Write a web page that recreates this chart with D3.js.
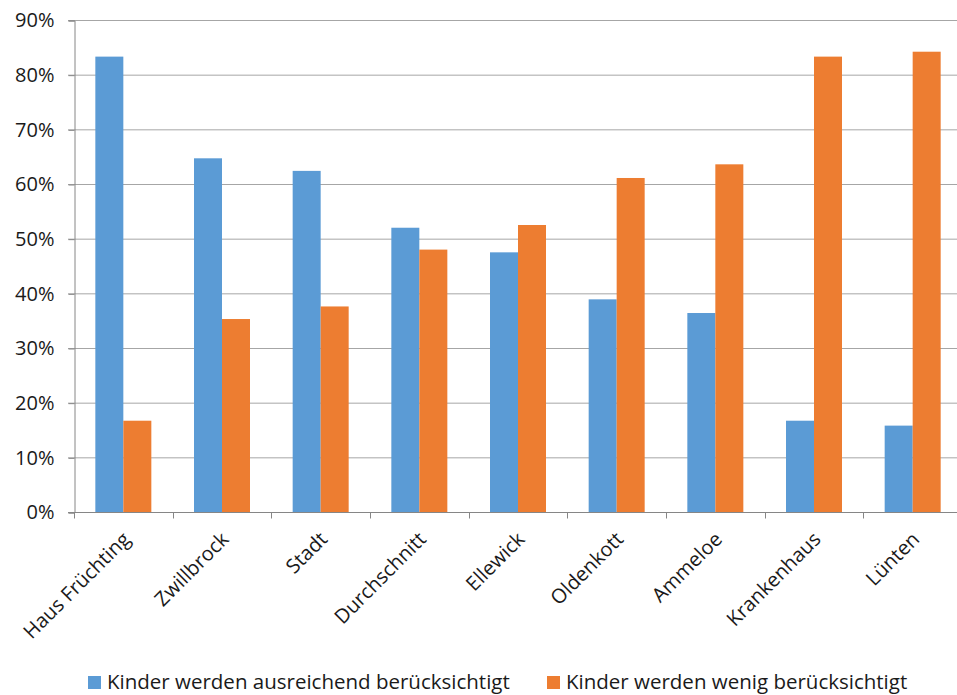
<!DOCTYPE html>
<html>
<head>
<meta charset="utf-8">
<script src="https://cdn.jsdelivr.net/npm/d3@7/dist/d3.min.js"></script>
<style>
  html, body { margin: 0; padding: 0; background: #fff; }
  svg { display: block; font-family: "Open Sans", "Noto Sans", sans-serif; }
</style>
</head>
<body>
<svg id="chart" width="957" height="695"></svg>
<script>
// Anteil der Antworten je Ortsteil
const categories = ["Haus Früchting", "Zwillbrock", "Stadt", "Durchschnitt", "Ellewick", "Oldenkott", "Ammeloe", "Krankenhaus", "Lünten"];
const ausreichend = [83.3, 64.7, 62.4, 52.0, 47.5, 38.9, 36.4, 16.7, 15.8];
const wenig = [16.7, 35.3, 37.6, 48.0, 52.5, 61.1, 63.6, 83.3, 84.2];
const seriesNames = ["Kinder werden ausreichend berücksichtigt", "Kinder werden wenig berücksichtigt"];
const yTicks = [0, 10, 20, 30, 40, 50, 60, 70, 80, 90];

const colors = ["#5B9BD5", "#ED7D31"];
const svg = d3.select("#chart");

const plotLeft = 74, plotRight = 962, plotTop = 20, plotBottom = 512;
const fontSize = "20px";

const x = d3.scaleBand().domain(categories).range([plotLeft, plotRight]).paddingInner(0).paddingOuter(0);
// two bars of 28px each, centred inside each band
const barW = 28;
const y = d3.scaleLinear().domain([0, 90]).range([plotBottom, plotTop]);

// horizontal gridlines
svg.append("g")
  .selectAll("line")
  .data(yTicks.filter(d => d > 0))
  .join("line")
  .attr("x1", plotLeft - 6).attr("x2", plotRight)
  .attr("y1", d => y(d) + 0.5).attr("y2", d => y(d) + 0.5)
  .attr("stroke", "#A6A6A6").attr("stroke-width", 1);

// y axis
const yAxis = d3.axisLeft(y).tickValues(yTicks).tickFormat(d => d + "%").tickSize(6).tickPadding(14);
const gy = svg.append("g").attr("transform", `translate(${plotLeft + 0.5},0.5)`).call(yAxis);
gy.select(".domain").attr("stroke", "#868686");
gy.selectAll(".tick line").attr("stroke", "#868686");
gy.selectAll(".tick text").attr("fill", "#1a1a1a").style("font-size", fontSize)
  .attr("font-family", "'Open Sans', sans-serif");

// bars
const groups = svg.append("g").selectAll("g")
  .data(categories.map((c, i) => ({ c, v: [ausreichend[i], wenig[i]] })))
  .join("g")
  .attr("transform", d => `translate(${x(d.c) + x.bandwidth() / 2 - barW},0)`);

groups.selectAll("rect")
  .data(d => d.v.map((v, k) => ({ v, k })))
  .join("rect")
  .attr("x", d => d.k * barW)
  .attr("width", barW)
  .attr("y", d => y(d.v))
  .attr("height", d => y(0) - y(d.v))
  .attr("fill", d => colors[d.k]);

// x axis with ticks between categories
const gx = svg.append("g").attr("transform", `translate(0,${plotBottom + 0.5})`);
gx.append("line").attr("x1", plotLeft - 6).attr("x2", plotRight).attr("stroke", "#868686");
const boundaries = d3.range(categories.length + 1).map(i => plotLeft + i * x.step());
gx.selectAll("line.t")
  .data(boundaries)
  .join("line").attr("class", "t")
  .attr("x1", d => Math.round(d) + 0.5).attr("x2", d => Math.round(d) + 0.5)
  .attr("y1", 0).attr("y2", 6)
  .attr("stroke", "#868686");

gx.selectAll("text")
  .data(categories)
  .join("text")
  .attr("transform", d => `translate(${x(d) + x.bandwidth() / 2 + 8},${28}) rotate(-45)`)
  .attr("text-anchor", "end")
  .attr("fill", "#1a1a1a")
  .style("font-size", fontSize)
  .text(d => d);

// legend
const legendItems = [
  { name: seriesNames[0], color: colors[0], x: 88 },
  { name: seriesNames[1], color: colors[1], x: 547 }
];
const lg = svg.append("g").selectAll("g").data(legendItems).join("g")
  .attr("transform", d => `translate(${d.x},676)`);
lg.append("rect").attr("width", 13).attr("height", 13).attr("fill", d => d.color);
lg.append("text").attr("x", 19).attr("y", 13)
  .attr("fill", "#1a1a1a").style("font-size", "20.5px").text(d => d.name);
</script>
</body>
</html>
